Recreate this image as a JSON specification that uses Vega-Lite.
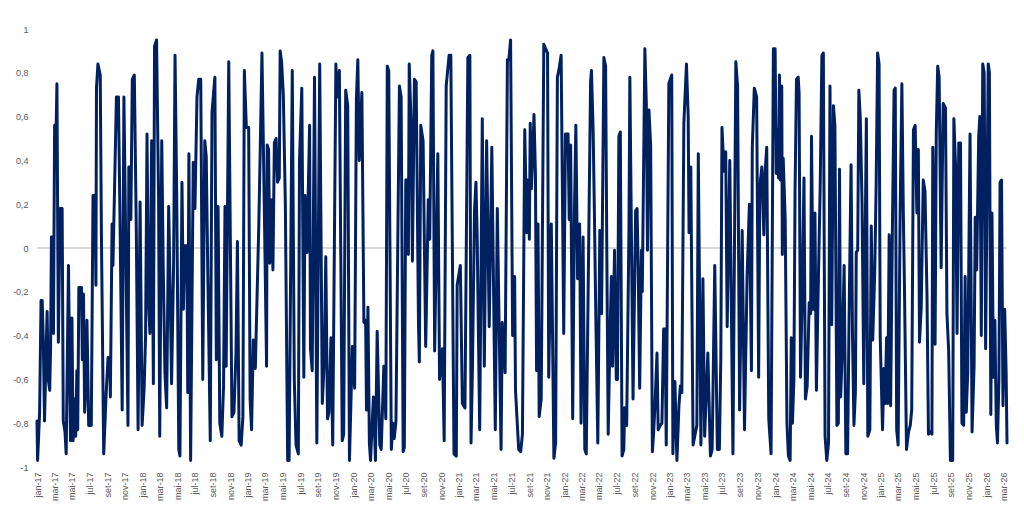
{
  "$schema": "https://vega.github.io/schema/vega-lite/v6.json",
  "width": 970,
  "height": 438,
  "autosize": {"type": "none"},
  "padding": {"left": 37, "top": 29, "right": 17, "bottom": 54},
  "background": "white",
  "data": {
    "values": [
      {"date": "2017-01-01", "value": -0.79}, {"date": "2017-01-03", "value": -0.97}, {"date": "2017-01-06", "value": -0.88}, {"date": "2017-01-10", "value": -0.75},
      {"date": "2017-01-15", "value": -0.24}, {"date": "2017-01-19", "value": -0.24}, {"date": "2017-01-23", "value": -0.43}, {"date": "2017-01-27", "value": -0.79},
      {"date": "2017-02-05", "value": -0.29}, {"date": "2017-02-09", "value": -0.6}, {"date": "2017-02-14", "value": -0.65}, {"date": "2017-02-17", "value": -0.46},
      {"date": "2017-02-20", "value": 0.05}, {"date": "2017-02-25", "value": 0.05}, {"date": "2017-02-27", "value": -0.39}, {"date": "2017-03-03", "value": 0.56},
      {"date": "2017-03-07", "value": 0.45}, {"date": "2017-03-11", "value": 0.75}, {"date": "2017-03-16", "value": -0.43}, {"date": "2017-03-22", "value": 0.18},
      {"date": "2017-03-29", "value": 0.18}, {"date": "2017-04-02", "value": -0.79}, {"date": "2017-04-08", "value": -0.84}, {"date": "2017-04-12", "value": -0.94},
      {"date": "2017-04-20", "value": -0.08}, {"date": "2017-04-27", "value": -0.88}, {"date": "2017-05-02", "value": -0.32}, {"date": "2017-05-06", "value": -0.88},
      {"date": "2017-05-11", "value": -0.69}, {"date": "2017-05-15", "value": -0.86}, {"date": "2017-05-19", "value": -0.56}, {"date": "2017-05-22", "value": -0.83},
      {"date": "2017-05-26", "value": -0.18}, {"date": "2017-06-04", "value": -0.18}, {"date": "2017-06-07", "value": -0.51}, {"date": "2017-06-11", "value": -0.21},
      {"date": "2017-06-15", "value": -0.75}, {"date": "2017-06-20", "value": -0.59}, {"date": "2017-06-23", "value": -0.33}, {"date": "2017-06-29", "value": -0.81},
      {"date": "2017-07-08", "value": -0.81}, {"date": "2017-07-14", "value": 0.24}, {"date": "2017-07-21", "value": 0.24}, {"date": "2017-07-24", "value": -0.17},
      {"date": "2017-07-26", "value": 0.73}, {"date": "2017-07-31", "value": 0.84}, {"date": "2017-08-08", "value": 0.79}, {"date": "2017-08-12", "value": 0.07},
      {"date": "2017-08-20", "value": -0.94}, {"date": "2017-08-28", "value": -0.68}, {"date": "2017-09-04", "value": -0.5}, {"date": "2017-09-10", "value": -0.5},
      {"date": "2017-09-12", "value": -0.68}, {"date": "2017-09-18", "value": 0.11}, {"date": "2017-09-21", "value": -0.08}, {"date": "2017-09-27", "value": 0.3},
      {"date": "2017-10-03", "value": 0.69}, {"date": "2017-10-10", "value": 0.69}, {"date": "2017-10-16", "value": 0.07}, {"date": "2017-10-23", "value": -0.74},
      {"date": "2017-10-29", "value": 0.69}, {"date": "2017-11-12", "value": -0.81}, {"date": "2017-11-15", "value": 0.37}, {"date": "2017-11-20", "value": 0.37},
      {"date": "2017-11-22", "value": 0.13}, {"date": "2017-11-27", "value": 0.77}, {"date": "2017-12-04", "value": 0.79}, {"date": "2017-12-11", "value": 0.07},
      {"date": "2017-12-17", "value": -0.83}, {"date": "2017-12-24", "value": 0.21}, {"date": "2017-12-31", "value": -0.81},
      {"date": "2018-01-07", "value": -0.64}, {"date": "2018-01-12", "value": -0.4}, {"date": "2018-01-17", "value": 0.52}, {"date": "2018-01-22", "value": -0.24},
      {"date": "2018-01-27", "value": -0.39}, {"date": "2018-02-02", "value": 0.49}, {"date": "2018-02-08", "value": -0.62}, {"date": "2018-02-12", "value": 0.92},
      {"date": "2018-02-19", "value": 0.95}, {"date": "2018-02-26", "value": 0.23}, {"date": "2018-03-02", "value": -0.86}, {"date": "2018-03-09", "value": 0.49},
      {"date": "2018-03-14", "value": -0.08}, {"date": "2018-03-20", "value": -0.57}, {"date": "2018-03-26", "value": -0.73}, {"date": "2018-04-02", "value": 0.19},
      {"date": "2018-04-07", "value": -0.19}, {"date": "2018-04-12", "value": -0.62}, {"date": "2018-04-19", "value": -0.08}, {"date": "2018-04-24", "value": 0.88},
      {"date": "2018-04-30", "value": 0.22}, {"date": "2018-05-07", "value": -0.92}, {"date": "2018-05-11", "value": -0.95}, {"date": "2018-05-18", "value": 0.3},
      {"date": "2018-05-23", "value": -0.28}, {"date": "2018-05-28", "value": 0.01}, {"date": "2018-06-04", "value": 0.01}, {"date": "2018-06-07", "value": -0.66},
      {"date": "2018-06-11", "value": 0.43}, {"date": "2018-06-17", "value": -0.97}, {"date": "2018-06-26", "value": 0.39}, {"date": "2018-07-02", "value": 0.18},
      {"date": "2018-07-09", "value": 0.69}, {"date": "2018-07-15", "value": 0.77}, {"date": "2018-07-22", "value": 0.77}, {"date": "2018-07-29", "value": -0.6},
      {"date": "2018-08-05", "value": 0.49}, {"date": "2018-08-10", "value": 0.42}, {"date": "2018-08-16", "value": -0.16}, {"date": "2018-08-24", "value": -0.88},
      {"date": "2018-08-30", "value": 0.62}, {"date": "2018-09-09", "value": 0.78}, {"date": "2018-09-14", "value": -0.51}, {"date": "2018-09-20", "value": 0.19},
      {"date": "2018-09-26", "value": -0.8}, {"date": "2018-10-03", "value": -0.86}, {"date": "2018-10-09", "value": -0.63}, {"date": "2018-10-14", "value": 0.19},
      {"date": "2018-10-18", "value": -0.54}, {"date": "2018-10-27", "value": 0.85}, {"date": "2018-11-07", "value": -0.77}, {"date": "2018-11-14", "value": -0.75},
      {"date": "2018-11-21", "value": -0.48}, {"date": "2018-11-26", "value": 0.03}, {"date": "2018-12-02", "value": -0.88}, {"date": "2018-12-09", "value": -0.9},
      {"date": "2018-12-15", "value": -0.77}, {"date": "2018-12-20", "value": 0.81}, {"date": "2018-12-27", "value": 0.55},
      {"date": "2019-01-04", "value": 0.55}, {"date": "2019-01-09", "value": -0.69}, {"date": "2019-01-14", "value": -0.83}, {"date": "2019-01-20", "value": -0.42},
      {"date": "2019-01-27", "value": -0.55}, {"date": "2019-02-08", "value": 0.1}, {"date": "2019-02-13", "value": 0.45}, {"date": "2019-02-19", "value": 0.89},
      {"date": "2019-02-27", "value": 0.2}, {"date": "2019-03-07", "value": -0.54}, {"date": "2019-03-09", "value": 0.47}, {"date": "2019-03-14", "value": 0.45},
      {"date": "2019-03-18", "value": -0.07}, {"date": "2019-03-24", "value": 0.22}, {"date": "2019-03-29", "value": -0.1}, {"date": "2019-04-03", "value": 0.48},
      {"date": "2019-04-09", "value": 0.5}, {"date": "2019-04-14", "value": 0.3}, {"date": "2019-04-20", "value": 0.32}, {"date": "2019-04-23", "value": 0.9},
      {"date": "2019-04-28", "value": 0.85}, {"date": "2019-05-04", "value": 0.7}, {"date": "2019-05-11", "value": 0.2}, {"date": "2019-05-19", "value": -0.97},
      {"date": "2019-05-24", "value": -0.97}, {"date": "2019-06-04", "value": 0.81}, {"date": "2019-06-11", "value": -0.6}, {"date": "2019-06-17", "value": -0.9},
      {"date": "2019-06-25", "value": -0.94}, {"date": "2019-06-29", "value": 0.4}, {"date": "2019-07-07", "value": 0.73}, {"date": "2019-07-14", "value": -0.59},
      {"date": "2019-07-18", "value": 0.24}, {"date": "2019-07-25", "value": -0.02}, {"date": "2019-08-03", "value": 0.56}, {"date": "2019-08-06", "value": -0.46},
      {"date": "2019-08-12", "value": -0.56}, {"date": "2019-08-20", "value": 0.78}, {"date": "2019-08-28", "value": -0.89}, {"date": "2019-09-07", "value": 0.84},
      {"date": "2019-09-16", "value": -0.71}, {"date": "2019-09-23", "value": -0.51}, {"date": "2019-09-28", "value": -0.04}, {"date": "2019-10-04", "value": -0.78},
      {"date": "2019-10-09", "value": -0.75}, {"date": "2019-10-16", "value": -0.41}, {"date": "2019-10-22", "value": -0.9}, {"date": "2019-11-02", "value": 0.84},
      {"date": "2019-11-06", "value": 0.69}, {"date": "2019-11-14", "value": 0.81}, {"date": "2019-11-24", "value": -0.88}, {"date": "2019-11-29", "value": -0.85},
      {"date": "2019-12-06", "value": 0.72}, {"date": "2019-12-13", "value": 0.65}, {"date": "2019-12-19", "value": -0.97}, {"date": "2019-12-29", "value": -0.45},
      {"date": "2020-01-06", "value": -0.64}, {"date": "2020-01-12", "value": 0.68}, {"date": "2020-01-17", "value": 0.86}, {"date": "2020-01-22", "value": 0.4},
      {"date": "2020-01-31", "value": 0.71}, {"date": "2020-02-07", "value": -0.34}, {"date": "2020-02-13", "value": -0.33}, {"date": "2020-02-16", "value": -0.74},
      {"date": "2020-02-21", "value": -0.27}, {"date": "2020-02-26", "value": -0.89}, {"date": "2020-03-01", "value": -0.97}, {"date": "2020-03-06", "value": -0.82},
      {"date": "2020-03-11", "value": -0.68}, {"date": "2020-03-18", "value": -0.97}, {"date": "2020-03-24", "value": -0.38}, {"date": "2020-04-02", "value": -0.9},
      {"date": "2020-04-07", "value": -0.92}, {"date": "2020-04-16", "value": -0.54}, {"date": "2020-04-23", "value": -0.78}, {"date": "2020-04-28", "value": 0.83},
      {"date": "2020-05-03", "value": 0.81}, {"date": "2020-05-12", "value": -0.92}, {"date": "2020-05-18", "value": -0.8}, {"date": "2020-05-22", "value": -0.87},
      {"date": "2020-05-28", "value": -0.79}, {"date": "2020-06-09", "value": 0.74}, {"date": "2020-06-15", "value": 0.69}, {"date": "2020-06-22", "value": -0.93},
      {"date": "2020-06-26", "value": -0.91}, {"date": "2020-07-01", "value": 0.31}, {"date": "2020-07-05", "value": 0.31}, {"date": "2020-07-10", "value": -0.03},
      {"date": "2020-07-13", "value": 0.84}, {"date": "2020-07-19", "value": 0.59}, {"date": "2020-07-24", "value": -0.06}, {"date": "2020-07-31", "value": 0.77},
      {"date": "2020-08-06", "value": 0.76}, {"date": "2020-08-14", "value": -0.34}, {"date": "2020-08-17", "value": -0.52}, {"date": "2020-08-22", "value": 0.56},
      {"date": "2020-08-30", "value": 0.49}, {"date": "2020-09-08", "value": -0.45}, {"date": "2020-09-17", "value": 0.22}, {"date": "2020-09-22", "value": 0.04},
      {"date": "2020-09-29", "value": 0.88}, {"date": "2020-10-03", "value": 0.9}, {"date": "2020-10-09", "value": -0.47}, {"date": "2020-10-20", "value": 0.43},
      {"date": "2020-10-26", "value": -0.6}, {"date": "2020-11-05", "value": -0.46}, {"date": "2020-11-11", "value": -0.88}, {"date": "2020-11-18", "value": 0.74},
      {"date": "2020-11-28", "value": 0.88}, {"date": "2020-12-04", "value": 0.88}, {"date": "2020-12-15", "value": -0.94}, {"date": "2020-12-23", "value": -0.95},
      {"date": "2020-12-26", "value": -0.17},
      {"date": "2021-01-06", "value": -0.08}, {"date": "2021-01-13", "value": -0.71}, {"date": "2021-01-22", "value": -0.73}, {"date": "2021-02-01", "value": 0.87},
      {"date": "2021-02-08", "value": 0.88}, {"date": "2021-02-12", "value": -0.89}, {"date": "2021-02-17", "value": -0.54}, {"date": "2021-02-24", "value": 0.17},
      {"date": "2021-03-01", "value": 0.3}, {"date": "2021-03-05", "value": 0.07}, {"date": "2021-03-14", "value": -0.83}, {"date": "2021-03-23", "value": 0.59},
      {"date": "2021-03-30", "value": -0.54}, {"date": "2021-04-07", "value": 0.49}, {"date": "2021-04-16", "value": -0.36}, {"date": "2021-04-25", "value": 0.46},
      {"date": "2021-05-07", "value": -0.83}, {"date": "2021-05-14", "value": 0.18}, {"date": "2021-05-27", "value": -0.92}, {"date": "2021-05-31", "value": -0.34},
      {"date": "2021-06-10", "value": -0.57}, {"date": "2021-06-18", "value": 0.86}, {"date": "2021-06-23", "value": 0.86}, {"date": "2021-06-29", "value": 0.95},
      {"date": "2021-07-06", "value": -0.4}, {"date": "2021-07-13", "value": -0.13}, {"date": "2021-07-16", "value": -0.65}, {"date": "2021-07-27", "value": -0.92},
      {"date": "2021-08-03", "value": -0.93}, {"date": "2021-08-09", "value": -0.85}, {"date": "2021-08-17", "value": 0.54}, {"date": "2021-08-24", "value": 0.07},
      {"date": "2021-08-28", "value": 0.31}, {"date": "2021-09-02", "value": 0.04}, {"date": "2021-09-05", "value": 0.57}, {"date": "2021-09-09", "value": 0.27},
      {"date": "2021-09-13", "value": 0.4}, {"date": "2021-09-18", "value": 0.61}, {"date": "2021-09-23", "value": 0.34}, {"date": "2021-09-27", "value": -0.56},
      {"date": "2021-10-02", "value": 0.11}, {"date": "2021-10-06", "value": -0.77}, {"date": "2021-10-13", "value": -0.69}, {"date": "2021-10-22", "value": 0.93},
      {"date": "2021-11-04", "value": 0.89}, {"date": "2021-11-08", "value": -0.59}, {"date": "2021-11-17", "value": 0.11}, {"date": "2021-11-26", "value": -0.96},
      {"date": "2021-12-02", "value": -0.89}, {"date": "2021-12-08", "value": 0.78}, {"date": "2021-12-13", "value": 0.81}, {"date": "2021-12-21", "value": 0.88},
      {"date": "2021-12-30", "value": -0.39},
      {"date": "2022-01-05", "value": 0.52}, {"date": "2022-01-14", "value": 0.52}, {"date": "2022-01-18", "value": 0.13}, {"date": "2022-01-23", "value": 0.47},
      {"date": "2022-01-30", "value": -0.78}, {"date": "2022-02-05", "value": 0.16}, {"date": "2022-02-10", "value": 0.56}, {"date": "2022-02-16", "value": -0.14},
      {"date": "2022-02-23", "value": 0.11}, {"date": "2022-02-28", "value": -0.8}, {"date": "2022-03-07", "value": 0.05}, {"date": "2022-03-13", "value": -0.92},
      {"date": "2022-03-18", "value": -0.94}, {"date": "2022-04-02", "value": 0.76}, {"date": "2022-04-05", "value": 0.81}, {"date": "2022-04-11", "value": 0.53},
      {"date": "2022-04-15", "value": 0.18}, {"date": "2022-04-20", "value": -0.3}, {"date": "2022-04-27", "value": -0.89}, {"date": "2022-05-04", "value": 0.08},
      {"date": "2022-05-10", "value": -0.3}, {"date": "2022-05-18", "value": 0.87}, {"date": "2022-05-24", "value": 0.83}, {"date": "2022-05-28", "value": 0.02},
      {"date": "2022-06-02", "value": -0.85}, {"date": "2022-06-08", "value": -0.42}, {"date": "2022-06-13", "value": -0.13}, {"date": "2022-06-17", "value": -0.54},
      {"date": "2022-06-24", "value": -0.01}, {"date": "2022-06-30", "value": -0.6}, {"date": "2022-07-04", "value": -0.6}, {"date": "2022-07-09", "value": 0.51},
      {"date": "2022-07-14", "value": 0.53}, {"date": "2022-07-20", "value": -0.95}, {"date": "2022-07-26", "value": -0.92}, {"date": "2022-07-29", "value": -0.73},
      {"date": "2022-08-05", "value": -0.81}, {"date": "2022-08-13", "value": 0.1}, {"date": "2022-08-16", "value": 0.78}, {"date": "2022-08-27", "value": -0.69},
      {"date": "2022-09-05", "value": 0.17}, {"date": "2022-09-10", "value": 0.18}, {"date": "2022-09-14", "value": -0.11}, {"date": "2022-09-19", "value": -0.64},
      {"date": "2022-09-25", "value": -0.01}, {"date": "2022-09-28", "value": -0.2}, {"date": "2022-10-07", "value": 0.91}, {"date": "2022-10-12", "value": 0.66},
      {"date": "2022-10-16", "value": -0.01}, {"date": "2022-10-21", "value": 0.63}, {"date": "2022-10-27", "value": 0.47}, {"date": "2022-11-02", "value": -0.93},
      {"date": "2022-11-06", "value": -0.85}, {"date": "2022-11-11", "value": -0.72}, {"date": "2022-11-18", "value": -0.48}, {"date": "2022-11-22", "value": -0.83},
      {"date": "2022-11-29", "value": -0.81}, {"date": "2022-12-05", "value": -0.8}, {"date": "2022-12-11", "value": -0.37}, {"date": "2022-12-16", "value": -0.37},
      {"date": "2022-12-20", "value": -0.9}, {"date": "2022-12-29", "value": 0.75},
      {"date": "2023-01-08", "value": 0.79}, {"date": "2023-01-12", "value": -0.94}, {"date": "2023-01-19", "value": -0.61}, {"date": "2023-01-26", "value": -0.97},
      {"date": "2023-02-02", "value": -0.72}, {"date": "2023-02-07", "value": -0.63}, {"date": "2023-02-12", "value": -0.66}, {"date": "2023-02-19", "value": 0.57},
      {"date": "2023-02-28", "value": 0.84}, {"date": "2023-03-06", "value": 0.6}, {"date": "2023-03-09", "value": 0.07}, {"date": "2023-03-15", "value": 0.37},
      {"date": "2023-03-23", "value": -0.9}, {"date": "2023-03-30", "value": -0.85}, {"date": "2023-04-05", "value": -0.81}, {"date": "2023-04-10", "value": 0.43},
      {"date": "2023-04-19", "value": -0.9}, {"date": "2023-04-26", "value": -0.14}, {"date": "2023-05-02", "value": -0.86}, {"date": "2023-05-13", "value": -0.48},
      {"date": "2023-05-22", "value": -0.95}, {"date": "2023-05-28", "value": -0.92}, {"date": "2023-06-06", "value": -0.08}, {"date": "2023-06-15", "value": -0.92},
      {"date": "2023-06-22", "value": -0.92}, {"date": "2023-06-27", "value": -0.5}, {"date": "2023-07-01", "value": 0.55}, {"date": "2023-07-08", "value": 0.35},
      {"date": "2023-07-14", "value": 0.44}, {"date": "2023-07-19", "value": -0.36}, {"date": "2023-07-28", "value": 0.4}, {"date": "2023-08-08", "value": -0.94},
      {"date": "2023-08-18", "value": 0.85}, {"date": "2023-08-24", "value": 0.74}, {"date": "2023-08-31", "value": -0.74}, {"date": "2023-09-09", "value": 0.08},
      {"date": "2023-09-17", "value": -0.83}, {"date": "2023-09-26", "value": -0.13}, {"date": "2023-10-04", "value": 0.2}, {"date": "2023-10-11", "value": -0.56},
      {"date": "2023-10-14", "value": 0.46}, {"date": "2023-10-21", "value": 0.73}, {"date": "2023-10-29", "value": 0.69}, {"date": "2023-11-05", "value": -0.59},
      {"date": "2023-11-09", "value": 0.28}, {"date": "2023-11-16", "value": 0.37}, {"date": "2023-11-23", "value": 0.06}, {"date": "2023-11-27", "value": 0.34},
      {"date": "2023-12-03", "value": 0.46}, {"date": "2023-12-10", "value": -0.78}, {"date": "2023-12-18", "value": -0.94}, {"date": "2023-12-26", "value": 0.91},
      {"date": "2024-01-01", "value": 0.91}, {"date": "2024-01-05", "value": 0.34}, {"date": "2024-01-09", "value": 0.54}, {"date": "2024-01-13", "value": 0.32},
      {"date": "2024-01-16", "value": 0.79}, {"date": "2024-01-19", "value": 0.31}, {"date": "2024-01-24", "value": 0.74}, {"date": "2024-01-26", "value": -0.03},
      {"date": "2024-01-29", "value": 0.41}, {"date": "2024-02-05", "value": 0.13}, {"date": "2024-02-11", "value": -0.8}, {"date": "2024-02-16", "value": -0.95},
      {"date": "2024-02-22", "value": -0.97}, {"date": "2024-02-26", "value": -0.41}, {"date": "2024-03-01", "value": -0.8}, {"date": "2024-03-06", "value": -0.6},
      {"date": "2024-03-10", "value": 0.25}, {"date": "2024-03-15", "value": 0.77}, {"date": "2024-03-21", "value": 0.78}, {"date": "2024-03-24", "value": 0.71},
      {"date": "2024-03-29", "value": -0.59}, {"date": "2024-04-04", "value": -0.2}, {"date": "2024-04-10", "value": 0.32}, {"date": "2024-04-15", "value": -0.69},
      {"date": "2024-04-21", "value": -0.63}, {"date": "2024-04-28", "value": -0.25}, {"date": "2024-05-03", "value": -0.3}, {"date": "2024-05-06", "value": 0.51},
      {"date": "2024-05-12", "value": -0.28}, {"date": "2024-05-18", "value": 0.16}, {"date": "2024-05-23", "value": -0.65}, {"date": "2024-05-29", "value": -0.2},
      {"date": "2024-06-05", "value": 0.27}, {"date": "2024-06-11", "value": 0.88}, {"date": "2024-06-16", "value": 0.89}, {"date": "2024-06-22", "value": -0.86},
      {"date": "2024-06-28", "value": -0.97}, {"date": "2024-07-04", "value": -0.89}, {"date": "2024-07-09", "value": 0.74}, {"date": "2024-07-15", "value": -0.35},
      {"date": "2024-07-21", "value": 0.65}, {"date": "2024-07-26", "value": 0.56}, {"date": "2024-08-02", "value": -0.81}, {"date": "2024-08-07", "value": -0.8},
      {"date": "2024-08-11", "value": 0.36}, {"date": "2024-08-15", "value": -0.68}, {"date": "2024-08-21", "value": -0.45}, {"date": "2024-08-27", "value": -0.08},
      {"date": "2024-09-02", "value": -0.94}, {"date": "2024-09-08", "value": -0.94}, {"date": "2024-09-13", "value": -0.33}, {"date": "2024-09-20", "value": 0.38},
      {"date": "2024-09-25", "value": -0.4}, {"date": "2024-09-30", "value": -0.81}, {"date": "2024-10-05", "value": -0.66}, {"date": "2024-10-08", "value": -0.02},
      {"date": "2024-10-13", "value": -0.01}, {"date": "2024-10-17", "value": 0.72}, {"date": "2024-10-22", "value": 0.59}, {"date": "2024-10-28", "value": 0.21},
      {"date": "2024-11-03", "value": -0.62}, {"date": "2024-11-12", "value": 0.59}, {"date": "2024-11-17", "value": -0.86}, {"date": "2024-11-24", "value": -0.83},
      {"date": "2024-11-29", "value": 0.1}, {"date": "2024-12-04", "value": -0.42}, {"date": "2024-12-11", "value": -0.11}, {"date": "2024-12-16", "value": 0.3},
      {"date": "2024-12-21", "value": 0.89}, {"date": "2024-12-26", "value": 0.84}, {"date": "2024-12-30", "value": -0.41},
      {"date": "2025-01-07", "value": -0.83}, {"date": "2025-01-12", "value": -0.55}, {"date": "2025-01-16", "value": -0.71}, {"date": "2025-01-21", "value": -0.41},
      {"date": "2025-01-25", "value": -0.71}, {"date": "2025-01-30", "value": 0.06}, {"date": "2025-02-04", "value": -0.72}, {"date": "2025-02-10", "value": 0.07},
      {"date": "2025-02-16", "value": 0.72}, {"date": "2025-02-20", "value": 0.73}, {"date": "2025-02-25", "value": -0.83}, {"date": "2025-03-02", "value": -0.9},
      {"date": "2025-03-09", "value": 0.17}, {"date": "2025-03-15", "value": 0.75}, {"date": "2025-03-20", "value": 0.16}, {"date": "2025-03-24", "value": -0.19},
      {"date": "2025-03-31", "value": -0.92}, {"date": "2025-04-07", "value": -0.84}, {"date": "2025-04-13", "value": -0.81}, {"date": "2025-04-18", "value": -0.74},
      {"date": "2025-04-24", "value": 0.54}, {"date": "2025-04-30", "value": 0.56}, {"date": "2025-05-06", "value": 0.16}, {"date": "2025-05-11", "value": 0.45},
      {"date": "2025-05-15", "value": -0.43}, {"date": "2025-05-21", "value": -0.27}, {"date": "2025-05-28", "value": 0.31}, {"date": "2025-06-03", "value": 0.26},
      {"date": "2025-06-10", "value": -0.22}, {"date": "2025-06-15", "value": -0.85}, {"date": "2025-06-21", "value": -0.84}, {"date": "2025-06-27", "value": -0.85},
      {"date": "2025-06-30", "value": 0.46}, {"date": "2025-07-05", "value": 0.0}, {"date": "2025-07-08", "value": -0.44}, {"date": "2025-07-12", "value": 0.52},
      {"date": "2025-07-17", "value": 0.83}, {"date": "2025-07-22", "value": 0.78}, {"date": "2025-07-29", "value": -0.09}, {"date": "2025-08-05", "value": 0.66},
      {"date": "2025-08-13", "value": 0.64}, {"date": "2025-08-18", "value": -0.3}, {"date": "2025-08-24", "value": -0.47}, {"date": "2025-08-30", "value": -0.97},
      {"date": "2025-09-07", "value": -0.97}, {"date": "2025-09-11", "value": 0.59}, {"date": "2025-09-17", "value": 0.37}, {"date": "2025-09-22", "value": -0.39},
      {"date": "2025-09-28", "value": 0.48}, {"date": "2025-10-04", "value": 0.48}, {"date": "2025-10-09", "value": -0.8}, {"date": "2025-10-15", "value": -0.81},
      {"date": "2025-10-20", "value": -0.13}, {"date": "2025-10-24", "value": -0.75}, {"date": "2025-10-29", "value": -0.57}, {"date": "2025-11-06", "value": 0.52},
      {"date": "2025-11-13", "value": -0.84}, {"date": "2025-11-20", "value": -0.54}, {"date": "2025-11-24", "value": 0.14}, {"date": "2025-11-29", "value": -0.1},
      {"date": "2025-12-06", "value": 0.51}, {"date": "2025-12-10", "value": 0.6}, {"date": "2025-12-15", "value": -0.4}, {"date": "2025-12-20", "value": 0.84},
      {"date": "2025-12-25", "value": 0.8}, {"date": "2025-12-30", "value": -0.46},
      {"date": "2026-01-08", "value": 0.84}, {"date": "2026-01-12", "value": 0.8}, {"date": "2026-01-17", "value": -0.76}, {"date": "2026-01-21", "value": 0.16},
      {"date": "2026-01-26", "value": -0.59}, {"date": "2026-01-31", "value": -0.33}, {"date": "2026-02-05", "value": -0.81}, {"date": "2026-02-09", "value": -0.89},
      {"date": "2026-02-14", "value": -0.6}, {"date": "2026-02-18", "value": 0.3}, {"date": "2026-02-23", "value": 0.31}, {"date": "2026-02-28", "value": -0.72},
      {"date": "2026-03-06", "value": -0.28}, {"date": "2026-03-11", "value": -0.57}, {"date": "2026-03-14", "value": -0.89}
    ]
  },
  "layer": [
    {
      "mark": {"type": "rule", "color": "#d9d9d9", "strokeWidth": 1},
      "encoding": {
        "y": {"datum": 0, "type": "quantitative", "axis": {"title": null}}
      }
    },
    {
      "mark": {"type": "line", "color": "#002060", "strokeWidth": 3, "strokeJoin": "round", "strokeCap": "round"},
      "encoding": {
        "x": {
          "field": "date",
          "type": "temporal",
          "scale": {"type": "utc", "nice": false},
          "axis": {
            "title": null,
            "tickCount": {"interval": "month", "step": 2},
            "labelExpr": "['jan','fev','mar','abr','mai','jun','jul','ago','set','out','nov','dez'][utcmonth(datum.value)] + '-' + utcFormat(datum.value, '%y')",
            "labelAngle": -90,
            "labelAlign": "right",
            "labelBaseline": "middle",
            "labelOverlap": false,
            "labelFlush": false,
            "labelBound": false,
            "labelPadding": 5
          }
        },
        "y": {
          "field": "value",
          "type": "quantitative",
          "scale": {"domain": [-1, 1], "nice": false},
          "axis": {
            "title": null,
            "values": [-1, -0.8, -0.6, -0.4, -0.2, 0, 0.2, 0.4, 0.6, 0.8, 1],
            "labelExpr": "abs(datum.value) < 0.001 ? '0' : abs(datum.value) > 0.999 ? (datum.value > 0 ? '1' : '-1') : replace(replace(format(datum.value, '.1f'), '.', ','), '−', '-')",
            "labelPadding": 9
          }
        }
      }
    }
  ],
  "config": {
    "view": {"stroke": null},
    "font": "Liberation Sans",
    "axis": {
      "domain": false,
      "ticks": false,
      "grid": false,
      "labelColor": "#595959",
      "labelFontSize": 9,
      "labelFont": "Liberation Sans"
    }
  }
}
